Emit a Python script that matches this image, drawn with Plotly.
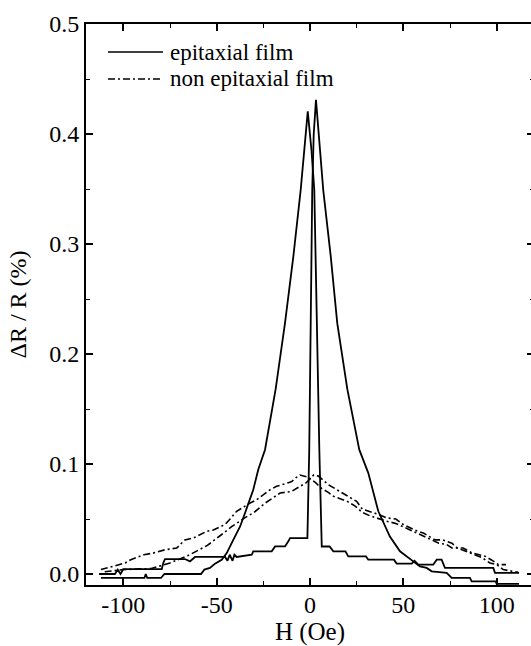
import plotly.graph_objects as go

# ---- data ----
# epitaxial film, branch 1 (broad left tail, left peak, abrupt drop, low right tail)
epi1_H = [-112, -88.7, -88.0, -87.2, -79.8, -78.0, -58.4, -56.6, -53.6, -50.9, -47.3, -44.6,
          -41.1, -39.3, -37.5, -34.8, -30.4, -27.7, -24.1, -18.4, -13.4, -8.9, -5.0, -1.2,
          0.8, 2.3, 3.6, 5.0, 6.3, 10.5, 12.5, 19.0, 20.5, 30.0, 31.2, 45.0, 46.4, 54.5,
          56.0, 58.0, 66.0, 67.9, 70.5, 72.3, 98.2, 99.1, 112]
epi1_R = [-0.0036, -0.0036, 0.0, -0.0036, -0.0036, 0.0, 0.0, 0.004, 0.0055, 0.0094, 0.013, 0.019,
          0.031, 0.037, 0.043, 0.0555, 0.0766, 0.095, 0.113, 0.168, 0.228, 0.289, 0.349, 0.4205,
          0.385, 0.349, 0.228, 0.113, 0.025, 0.025, 0.0206, 0.0206, 0.016, 0.016, 0.013, 0.013,
          0.0095, 0.0095, 0.012, 0.0085, 0.0085, 0.013, 0.013, 0.0055, 0.0055, 0.001, 0.001]

# epitaxial film, branch 2 (broad right tail, right peak, abrupt drop, low left tail)
epi2_H = [112, 100, 99.5, 86.6, 85.7, 75.9, 73.2, 65.2, 62.5, 58.9, 55.3, 51.8, 48.2, 42.8,
          36.6, 31.2, 26.4, 20.0, 14.6, 11.1, 7.1, 3.2, 2.0, 1.2, 0.5, -0.4, -1.4, -10.7,
          -11.6, -13.4, -18.7, -20.5, -30.4, -31.2, -39.3, -40.5, -41.5, -43.0, -44.2, -45.5,
          -61.6, -64.3, -67.0, -77.7, -78.6, -79.4, -96.4, -100, -101.5, -103, -104.5, -113]
epi2_R = [-0.009, -0.009, -0.0067, -0.0067, -0.0036, -0.0036, 0.001, 0.0024, 0.0055, 0.007,
          0.0115, 0.016, 0.0206, 0.034, 0.057, 0.092, 0.113, 0.168, 0.228, 0.289, 0.349, 0.431,
          0.40, 0.349, 0.228, 0.113, 0.0327, 0.0327, 0.0297, 0.0251, 0.0251, 0.0206, 0.0206,
          0.0175, 0.0155, 0.0175, 0.012, 0.0175, 0.012, 0.0155, 0.0155, 0.0115, 0.0136, 0.0136,
          0.010, 0.0045, 0.0045, 0.0045, 0.0, 0.004, 0.0, 0.0]

# non epitaxial film, branch A (upper on the left)
non1_H = [-112, -105, -99, -96, -89, -84, -77.7, -71.4, -67, -62.5, -55.3, -51.8, -45.5, -42.8,
          -39.3, -32.1, -28.6, -21.4, -17.9, -11.6, -9.8, -8, -5.4, -1, 3, 6, 10, 12, 20, 24,
          28, 32, 41, 46, 51, 57, 61, 65, 69, 73, 76, 79, 83, 87.5, 92, 96.4, 100, 103.5, 111.6]
non1_R = [0.004, 0.007, 0.010, 0.013, 0.0175, 0.019, 0.022, 0.0236, 0.031, 0.0327, 0.0388, 0.040,
          0.045, 0.050, 0.057, 0.0645, 0.0675, 0.0766, 0.0797, 0.083, 0.084, 0.087, 0.090, 0.088,
          0.083, 0.078, 0.074, 0.071, 0.066, 0.062, 0.056, 0.053, 0.048, 0.046, 0.042, 0.037,
          0.034, 0.031, 0.028, 0.027, 0.0236, 0.0236, 0.021, 0.0175, 0.015, 0.010, 0.0085,
          0.004, 0.0015]

# non epitaxial film, branch B (lower on the left)
non2_H = [-110, -100, -85, -75, -65, -55, -48, -42, -35, -30, -24, -16, -10, -5, -2, 2, 4.5,
          10, 15, 20, 25, 28, 32, 37, 41, 46, 50, 56, 61, 64, 67, 71, 76, 79, 82, 87, 90, 94,
          97, 101, 105]
non2_R = [0.002, 0.004, 0.005, 0.010, 0.017, 0.026, 0.035, 0.043, 0.051, 0.056, 0.0645, 0.0736,
          0.075, 0.080, 0.083, 0.090, 0.089, 0.081, 0.076, 0.071, 0.066, 0.059, 0.057, 0.054,
          0.051, 0.050, 0.045, 0.040, 0.037, 0.034, 0.031, 0.031, 0.028, 0.0236, 0.0236, 0.019,
          0.0175, 0.016, 0.013, 0.0085, 0.0085]

x_tick_vals = [-100, -50, 0, 50, 100]
x_tick_text = ["-100", "-50", "0", "50", "100"]
y_tick_vals = [0.0, 0.1, 0.2, 0.3, 0.4, 0.5]
legend_names = ["epitaxial film", "non epitaxial film"]

FONT = "Liberation Serif, Times New Roman, serif"
DASHDOT = "7px,3px,2px,3px"

fig = go.Figure()
fig.add_trace(go.Scatter(x=epi1_H, y=epi1_R, mode="lines", showlegend=False,
                         line=dict(color="black", width=1.8)))
fig.add_trace(go.Scatter(x=epi2_H, y=epi2_R, mode="lines", showlegend=False,
                         line=dict(color="black", width=1.8)))
fig.add_trace(go.Scatter(x=non1_H, y=non1_R, mode="lines", showlegend=False,
                         line=dict(color="black", width=1.6, dash=DASHDOT)))
fig.add_trace(go.Scatter(x=non2_H, y=non2_R, mode="lines", showlegend=False,
                         line=dict(color="black", width=1.6, dash=DASHDOT)))

# plot area spans 448 px (x = 86..534); the window shows up to 531
PLOT_W = 448.0
def xp(px):
    return (px - 86) / PLOT_W

# legend drawn by hand (longer line samples, as in the original)
legend_rows = [(0.950, None), (0.902, DASHDOT)]
for name, (yy, dash) in zip(legend_names, legend_rows):
    fig.add_shape(type="line", xref="paper", yref="paper", x0=xp(108), x1=xp(163), y0=yy, y1=yy,
                  line=dict(color="black", width=1.6, dash=dash))
    fig.add_annotation(xref="paper", yref="paper", x=xp(168), y=yy, text=name, showarrow=False,
                       xanchor="left", yanchor="middle", font=dict(family=FONT, size=23, color="black"))

axis_common = dict(showline=True, linecolor="black", linewidth=2, mirror="ticks",
                   ticks="inside", ticklen=7, tickwidth=1.5, tickcolor="black",
                   showgrid=False, zeroline=False, automargin=False,
                   tickfont=dict(family=FONT, size=24, color="black"))

fig.update_xaxes(range=[-120, 120], tickvals=x_tick_vals, ticktext=x_tick_text,
                 ticklabelstandoff=-3,
                 minor=dict(ticks="inside", ticklen=4, tickwidth=1.2, tickcolor="black", dtick=25,
                            tick0=-125),
                 title=dict(text="H (Oe)", font=dict(family=FONT, size=25, color="black"), standoff=9),
                 **axis_common)
fig.update_yaxes(range=[-0.01, 0.5], tickvals=y_tick_vals, tickformat=".1f",
                 minor=dict(ticks="inside", ticklen=4, tickwidth=1.2, tickcolor="black", dtick=0.05,
                            tick0=0),
                 title=dict(text="ΔR / R (%)", font=dict(family=FONT, size=24, color="black"), standoff=16),
                 **axis_common)

fig.update_layout(width=534, height=646, margin=dict(l=86, r=0, t=24, b=61),
                  plot_bgcolor="white", paper_bgcolor="white", showlegend=False,
                  font=dict(family=FONT, color="black"))

fig.write_html("out.html", config={"displayModeBar": False},
               post_script="document.body.style.margin='0';document.body.style.overflow='hidden';")
